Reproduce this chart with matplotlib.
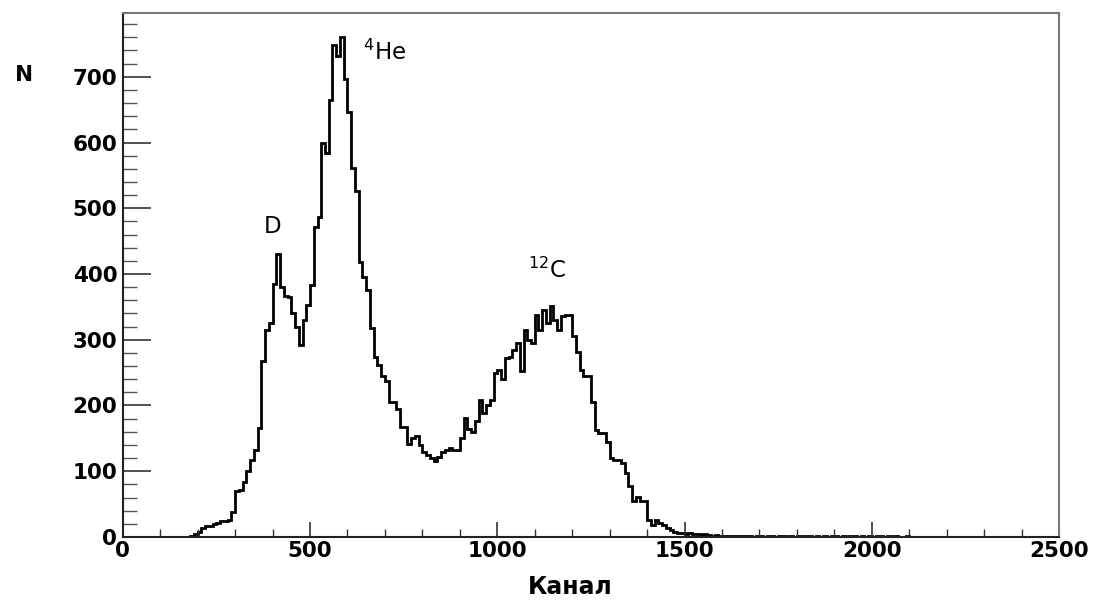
import numpy as np
import matplotlib.pyplot as plt
from matplotlib.ticker import MultipleLocator

# спектр по каналам: ширина бина 10 каналов, первый ненулевой бин с 180
bin_width = 10
first_bin = 180
counts = [
    2, 4, 8, 14, 16, 17, 20, 22, 24, 24,            # 180-270
    26, 38, 70, 72, 84, 100, 117, 132, 166, 268,    # 280-370
    315, 326, 385, 430, 381, 366, 365, 341, 320, 292,   # 380-470
    330, 353, 384, 472, 487, 599, 584, 665, 749, 731,   # 480-570
    761, 696, 647, 561, 526, 419, 396, 376, 318, 274,   # 580-670
    262, 245, 238, 205, 205, 195, 168, 168, 142, 150,   # 680-770
    153, 140, 130, 125, 120, 116, 122, 130, 133, 135,   # 780-870
    132, 132, 150, 181, 165, 160, 176, 208, 188, 200,   # 880-970
    208, 249, 254, 240, 272, 274, 285, 295, 252, 315,   # 980-1070
    300, 295, 338, 315, 346, 326, 351, 330, 315, 336,   # 1080-1170
    337, 337, 305, 282, 254, 245, 245, 206, 163, 158,   # 1180-1270
    158, 145, 120, 117, 117, 112, 97, 77, 54, 61,       # 1280-1370
    54, 54, 26, 18, 26, 22, 18, 13, 11, 8,              # 1380-1470
    6, 6, 5, 6, 4, 5, 3, 4, 3, 2,                       # 1480-1570
    3, 2, 2, 1, 2, 1, 1, 2, 1, 1,                       # 1580-1670
    0, 1, 1, 0, 1, 1, 0, 1, 1, 0,                       # 1680-1770
    1, 0, 1, 0, 1, 1, 0, 1, 0, 1,                       # 1780-1870
    0, 1, 1, 0, 1, 0, 1, 1, 0, 1,                       # 1880-1970
    0, 1, 0, 1, 2, 0, 1, 0, 1, 0,                       # 1980-2070
    0, 1, 0,                                            # 2080-2100
]
x_max = 2500
y_max = 797

peak_names = ["D", "$^{4}$He", "$^{12}$C"]
peak_x = [376, 641, 1082]
peak_y = [462, 726, 394]

# полная гистограмма 0..2500
n_bins = x_max // bin_width
hist = np.zeros(n_bins)
i0 = first_bin // bin_width
hist[i0:i0 + len(counts)] = counts
edges = np.arange(n_bins + 1) * bin_width

fig = plt.figure(figsize=(10.93, 6.03), dpi=100)
ax = fig.add_axes([0.1123, 0.1095, 0.8567, 0.8689])

ax.stairs(hist, edges, color="black", linewidth=2.0)

ax.set_xlim(0, x_max)
ax.set_ylim(0, y_max)

ax.xaxis.set_major_locator(MultipleLocator(500))
ax.xaxis.set_minor_locator(MultipleLocator(100))
ax.yaxis.set_major_locator(MultipleLocator(100))
ax.yaxis.set_minor_locator(MultipleLocator(20))

ax.tick_params(axis="x", which="major", direction="in", length=11, width=1.2,
               color="#333333", pad=3)
ax.tick_params(axis="x", which="minor", direction="in", length=6, width=1.0,
               color="#333333")
ax.tick_params(axis="y", which="major", direction="in", length=20, width=1.2,
               color="#333333", pad=4)
ax.tick_params(axis="y", which="minor", direction="in", length=10, width=1.0,
               color="#555555")
ax.tick_params(top=False, right=False)

for lab in ax.get_xticklabels() + ax.get_yticklabels():
    lab.set_fontfamily("DejaVu Sans")
    lab.set_fontweight("bold")
    lab.set_fontsize(15.5)

for side in ["left", "bottom"]:
    ax.spines[side].set_color("#222222")
    ax.spines[side].set_linewidth(1.5)
for side in ["top", "right"]:
    ax.spines[side].set_color("#777777")
    ax.spines[side].set_linewidth(1.5)

# подписи пиков
for name, px, py in zip(peak_names, peak_x, peak_y):
    ax.text(px, py, name, fontsize=16.5, family="DejaVu Sans",
            ha="left", va="baseline")

fig.text(24 / 1093, 1 - 75 / 603, "N", fontsize=15.5, fontweight="bold",
         family="DejaVu Sans", ha="center", va="center")
fig.text(570 / 1093, 1 - 587 / 603, "Канал", fontsize=17, fontweight="bold",
         family="DejaVu Sans", ha="center", va="center")

fig.savefig("out.png", dpi=100)
